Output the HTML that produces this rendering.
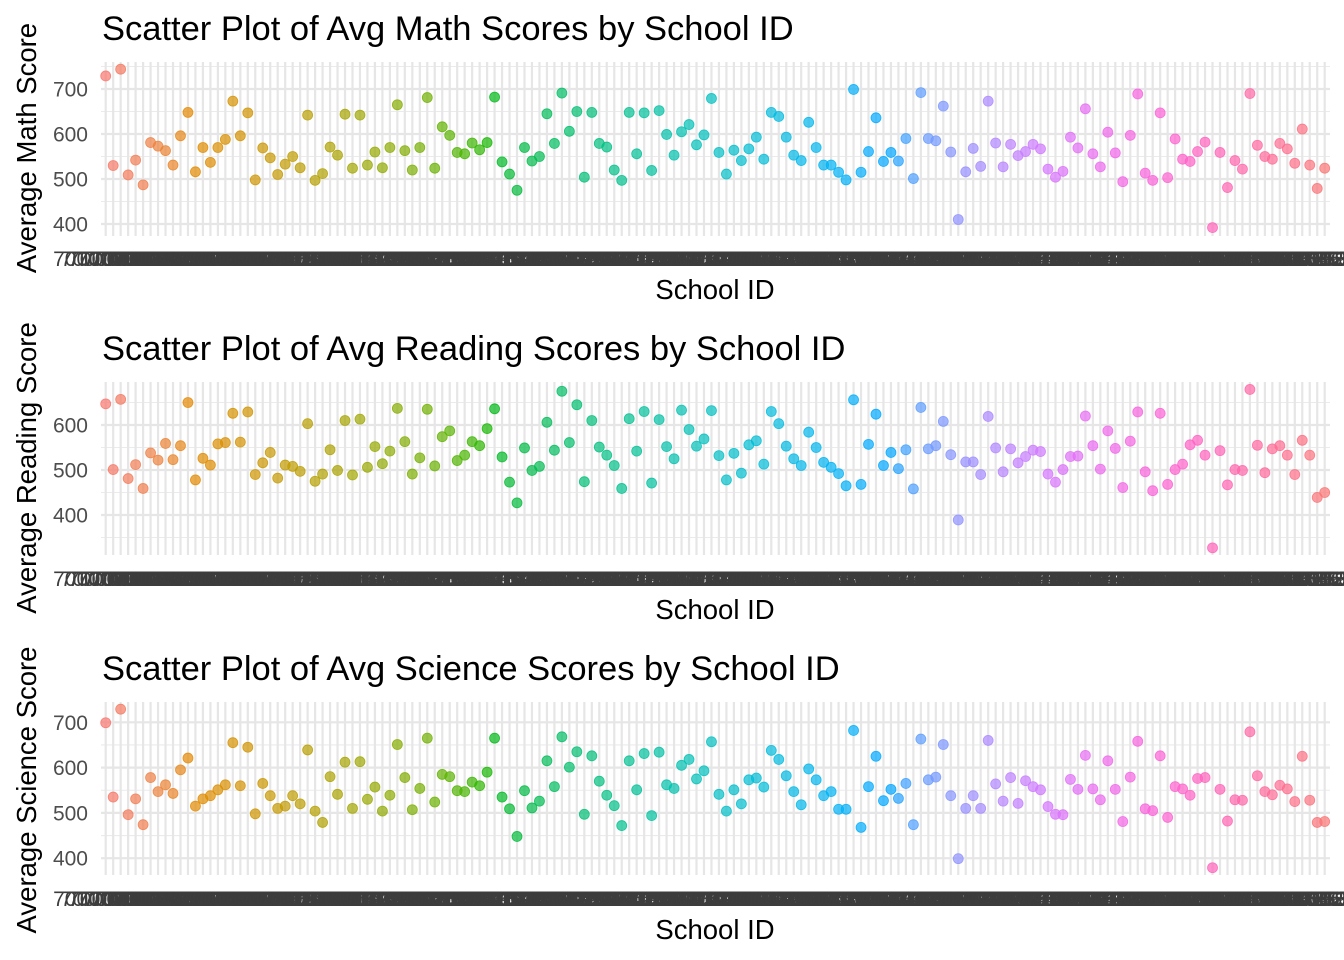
<!DOCTYPE html>
<html>
<head>
<meta charset="utf-8">
<style>
  html, body { margin: 0; padding: 0; background: #ffffff; }
  svg { display: block; font-family: "Liberation Sans", Arial, sans-serif; }
</style>
</head>
<body>
<svg id="chart" width="1344" height="960" viewBox="0 0 1344 960" xmlns="http://www.w3.org/2000/svg"></svg>
<script>
// ---- data ----
const schoolCount = 164;
const schoolIds = [];
for (let i = 0; i < schoolCount; i++) { schoolIds.push('7' + String(100000000 + i * 37).slice(1)); }

const mathScores = [729,530,744,509,542,487,581,573,563,531,596,648,516,570,537,570,588,673,596,647,
498,569,547,510,533,550,525,642,497,512,571,553,644,524,642,531,560,525,570,665,
563,520,570,681,524,616,597,559,556,580,565,581,682,538,511,475,570,540,550,645,
579,691,606,650,504,648,579,571,520,497,648,556,647,519,652,599,553,605,621,576,
598,679,559,511,564,541,567,593,544,648,639,593,553,541,626,570,531,531,515,498,
699,515,561,636,539,559,540,590,501,692,590,585,662,560,410,516,568,528,673,580,
527,577,552,561,577,567,522,504,517,593,569,656,556,527,604,558,494,597,689,513,
497,647,503,589,544,539,561,582,392,559,481,541,522,690,575,550,544,579,567,535,
611,531,479,524];

const readingScores = [647,501,657,481,512,459,538,522,559,523,554,650,478,526,511,558,561,626,562,629,
490,516,539,482,511,508,497,603,475,491,545,499,610,489,613,506,552,514,542,637,
563,491,527,635,509,574,587,521,533,563,554,592,636,529,473,427,549,499,508,606,
544,675,561,645,474,610,551,533,510,459,614,542,630,471,612,552,525,633,590,553,
569,632,532,478,537,493,556,565,513,630,603,553,525,510,584,550,517,506,492,465,
656,468,557,624,510,539,503,545,458,639,547,554,608,534,389,518,518,490,619,549,
496,547,516,530,544,541,491,473,501,530,531,620,554,502,587,548,461,564,629,496,
454,626,468,501,513,556,566,533,327,543,467,501,499,679,555,494,547,554,533,490,
566,533,439,450];

const scienceScores = [699,535,729,496,531,474,578,547,562,543,595,621,515,531,538,551,562,655,560,645,
498,565,538,510,515,538,520,639,504,479,580,541,612,510,613,530,557,504,539,651,
578,507,554,665,524,585,580,549,547,568,560,590,665,535,509,448,549,511,526,615,
558,668,601,635,497,626,570,539,516,472,615,551,631,494,634,562,554,605,618,575,
593,657,541,504,551,520,573,577,557,638,618,582,547,518,597,573,538,547,508,508,
682,468,558,625,527,552,532,565,474,663,573,579,651,538,399,510,538,510,660,564,
526,578,521,571,558,551,514,497,496,574,552,627,553,529,615,552,481,579,658,509,
505,626,490,558,553,539,576,578,379,552,482,529,528,679,582,547,540,561,553,525,
625,528,479,481];

const mathTicks = [400, 500, 600, 700];
const readingTicks = [400, 500, 600];
const scienceTicks = [400, 500, 600, 700];
const panelTitles = ['Scatter Plot of Avg Math Scores by School ID','Scatter Plot of Avg Reading Scores by School ID','Scatter Plot of Avg Science Scores by School ID'];
const yTitles = ['Average Math Score','Average Reading Score','Average Science Score'];

// ---- layout ----
const panels = [
  { key:'math', values: mathScores, ticks: mathTicks, top:62, bottom:236, refV:700, refY:89, ppu:0.45, yMin:373, yMax:760, titleY:40, tickY:266, xTitleY:299, yTitleC:148 },
  { key:'reading', values: readingScores, ticks: readingTicks, top:382, bottom:555, refV:600, refY:425, ppu:0.45, yMin:311, yMax:696, titleY:360, tickY:586, xTitleY:619, yTitleC:468 },
  { key:'science', values: scienceScores, ticks: scienceTicks, top:702, bottom:875, refV:700, refY:722.3, ppu:0.453, yMin:362, yMax:744, titleY:680, tickY:906, xTitleY:939, yTitleC:790 }
];
const xFirst = 105.7, xLast = 1324.7, plotLeft = 101, plotRight = 1330;
function xScale(i) { return xFirst + i * (xLast - xFirst) / (schoolCount - 1); }

function hcl(h) {
  const L = 65, C = 100, hr = h * Math.PI / 180;
  const u = C * Math.cos(hr), v = C * Math.sin(hr);
  const Y = Math.pow((L + 16) / 116, 3);
  const un = 0.1978398, vn = 0.4683363;
  const up = u / (13 * L) + un, vp = v / (13 * L) + vn;
  const X = Y * 9 * up / (4 * vp), Z = Y * (12 - 3 * up - 20 * vp) / (4 * vp);
  let r = 3.2404542*X - 1.5371385*Y - 0.4985314*Z;
  let g = -0.9692660*X + 1.8760108*Y + 0.0415560*Z;
  let b = 0.0556434*X - 0.2040259*Y + 1.0572252*Z;
  const gam = c => { c = c <= 0.0031308 ? 12.92*c : 1.055*Math.pow(c, 1/2.4) - 0.055; return Math.round(Math.max(0, Math.min(1, c)) * 255); };
  return 'rgb(' + gam(r) + ',' + gam(g) + ',' + gam(b) + ')';
}
const colors = [];
for (let i = 0; i < schoolCount; i++) colors.push(hcl(15 + 360 * i / schoolCount));

const NS = 'http://www.w3.org/2000/svg';
const svg = document.getElementById('chart');
function mk(tag, attrs, parent) {
  const e = document.createElementNS(NS, tag);
  for (const k in attrs) e.setAttribute(k, attrs[k]);
  parent.appendChild(e);
  return e;
}

panels.forEach((p, pi) => {
  const yScale = v => p.refY + (p.refV - v) * p.ppu;
  const g = mk('g', {}, svg);
  
  

  const grid = mk('g', {}, g);
  
  
  for (let v = Math.ceil(p.yMin / 50) * 50; v <= p.yMax; v += 50) {
    if (v % 100 === 0) continue;
    const y = yScale(v);
    const l = mk('line', { x1: plotLeft, x2: plotRight, y1: y, y2: y, stroke: '#ebebeb', 'stroke-width': 1.1 }, grid);
    
    
  }
  for (let i = 0; i < schoolCount; i++) {
    const x = xScale(i);
    const l = mk('line', { x1: x, x2: x, y1: p.top, y2: p.bottom, stroke: '#e6e6e6', 'stroke-width': 2.2 }, grid);
    
    
  }
  for (let v = Math.ceil(p.yMin / 100) * 100; v <= p.yMax; v += 100) {
    const y = yScale(v);
    const l = mk('line', { x1: plotLeft, x2: plotRight, y1: y, y2: y, stroke: '#e6e6e6', 'stroke-width': 2.2 }, grid);
    
    
  }
  p.ticks.forEach(v => {
    const y = yScale(v);
    const t = mk('text', { x: 88, y: y + 7.5, 'text-anchor': 'end', 'font-size': 21, fill: '#4d4d4d' }, g);
    t.textContent = v;
    
    
  });

  const xl = mk('g', {}, g);
  
  
  for (let i = 0; i < schoolCount; i++) {
    const t = mk('text', { x: xScale(i), y: p.tickY, 'text-anchor': 'middle', 'font-size': 21, fill: '#3d3d3d' }, xl);
    t.textContent = schoolIds[i];
    
    
  }

  const pts = mk('g', {}, g);
  
  
  p.values.forEach((v, i) => {
    const c = mk('circle', { cx: xScale(i), cy: yScale(v), r: 5, fill: colors[i], 'fill-opacity': 0.7, stroke: colors[i], 'stroke-opacity': 0.85, 'stroke-width': 0.8 }, pts);
    
    
  });

  const ti = mk('text', { x: 102, y: p.titleY, 'font-size': 34.5, fill: '#000' }, g);
  ti.textContent = panelTitles[pi];
  
  

  const xt = mk('text', { x: 715, y: p.xTitleY, 'text-anchor': 'middle', 'font-size': 27.5, fill: '#000' }, g);
  xt.textContent = 'School ID';
  
  

  const yt = mk('text', { x: 0, y: 0, 'text-anchor': 'middle', 'font-size': 27.5, fill: '#000', transform: 'translate(36,' + p.yTitleC + ') rotate(-90)' }, g);
  yt.textContent = yTitles[pi];
  
  
});
</script>
</body>
</html>
